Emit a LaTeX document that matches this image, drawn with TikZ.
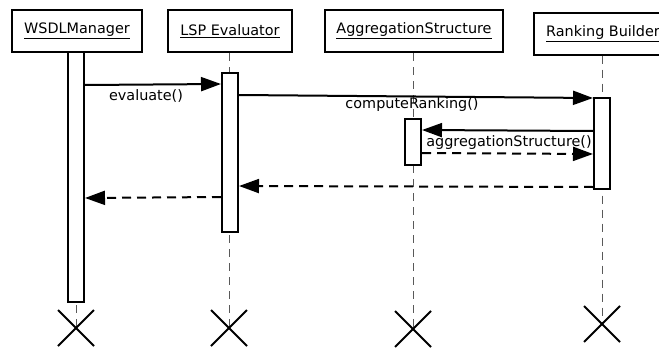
\documentclass[tikz,border=0pt]{standalone}
\usepackage{fontspec}
\setmainfont{DejaVu Sans}
\usetikzlibrary{arrows.meta}
\newcommand{\ulname}[1]{\underline{\smash{#1}\vphantom{g}}}
\begin{document}
\begin{tikzpicture}[x=1pt,y=-1pt,
  objbox/.style={draw,line width=2pt,fill=white,minimum height=42pt,inner sep=0pt,font=\fontsize{14.4}{17}\selectfont},
  lifeline/.style={draw=black!65,line width=1pt,dash pattern=on 8pt off 6pt},
  actbar/.style={draw,line width=2pt,fill=white},
  msg/.style={line width=2pt,-{Triangle[length=20pt,width=14pt]}},
  ret/.style={msg,dash pattern=on 9pt off 6pt},
  lbl/.style={font=\fontsize{14.4}{17}\selectfont,inner sep=0pt},
  xmark/.style={line width=2pt}]
\useasboundingbox (0,0) rectangle (659,348);
\begin{scope}
\clip (0,0) rectangle (659,348);
% object boxes
\node[objbox,minimum width=130pt] (wsdl) at (77,31) {\underline{WSDLManager}};
\node[objbox,minimum width=124pt] (lsp) at (230,31) {\underline{LSP Evaluator}};
\node[objbox,minimum width=178pt] (agg) at (414,31) {\underline{AggregationStructure}};
\node[objbox,minimum width=138pt,anchor=west] (rank) at (533,33.5) {\underline{Ranking Builder}};
% destruction points
\coordinate (xw) at (76,328);
\coordinate (xl) at (229,328);
\coordinate (xa) at (413,329);
\coordinate (xr) at (602,324);
% lifelines
\draw[lifeline] (wsdl.south -| xw) -- (xw);
\draw[lifeline] (lsp.south -| xl) -- (xl);
\draw[lifeline] (agg.south -| xa) -- (xa);
\draw[lifeline] (rank.south -| xr) -- (xr);
% activation bars
\node[actbar,minimum width=16pt,minimum height=250pt,inner sep=0pt,anchor=north] (wa) at (76,51) {};
\node[actbar,minimum width=16pt,minimum height=159pt,inner sep=0pt,anchor=north] (la) at (230,72) {};
\node[actbar,minimum width=16pt,minimum height=46pt,inner sep=0pt,anchor=north] (aa) at (413,118) {};
\node[actbar,minimum width=16pt,minimum height=91pt,inner sep=0pt,anchor=north] (ra) at (602,97) {};
% messages
\coordinate (m1s) at (wa.east |- 0,85);
\coordinate (m1e) at (la.west |- 0,84);
\draw[msg] (m1s) -- (m1e);
\node[lbl] (l1) at (146,96) {evaluate()};
\coordinate (m2s) at (la.east |- 0,95);
\coordinate (m2e) at (ra.west |- 0,98);
\draw[msg] (m2s) -- (m2e);
\node[lbl] (l2) at (412,105) {computeRanking()};
\coordinate (m3s) at (ra.west |- 0,131);
\coordinate (m3e) at (aa.east |- 0,130);
\draw[msg] (m3s) -- (m3e);
\node[lbl] (l3) at (509,143) {aggregationStructure()};
\coordinate (m4s) at (aa.east |- 0,153);
\coordinate (m4e) at (ra.west |- 0,154);
\draw[ret] (m4s) -- (m4e);
\coordinate (m5s) at (ra.west |- 0,187);
\coordinate (m5e) at (la.east |- 0,186);
\draw[ret] (m5s) -- (m5e);
\coordinate (m6s) at (la.west |- 0,197);
\coordinate (m6e) at (wa.east |- 0,198);
\draw[ret] (m6s) -- (m6e);
% X marks
\foreach \c in {xw,xl,xa,xr}{
  \draw[xmark] ([shift={(-18,-18)}]\c) -- ([shift={(18,18)}]\c);
  \draw[xmark] ([shift={(-18,18)}]\c) -- ([shift={(18,-18)}]\c);
}
\end{scope}
\end{tikzpicture}
\end{document}
